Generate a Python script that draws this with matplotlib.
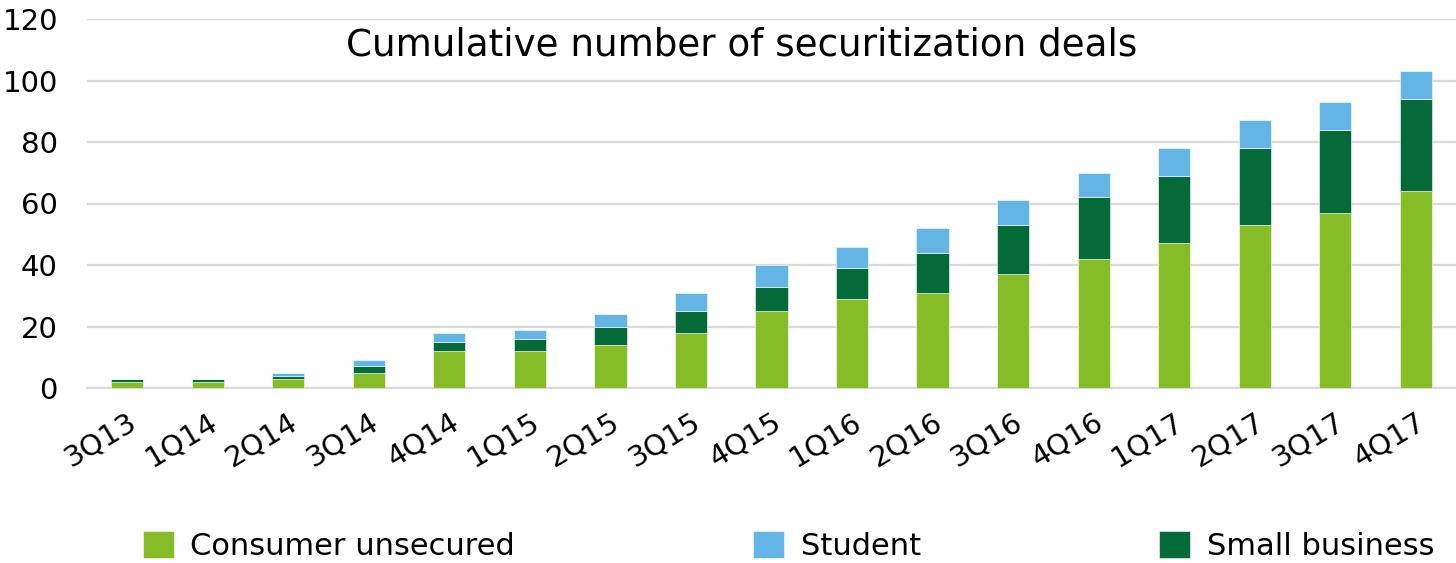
import matplotlib.pyplot as plt
import numpy as np

quarters = ["3Q13", "1Q14", "2Q14", "3Q14", "4Q14", "1Q15", "2Q15", "3Q15", "4Q15",
            "1Q16", "2Q16", "3Q16", "4Q16", "1Q17", "2Q17", "3Q17", "4Q17"]
consumer = [2, 2, 3, 5, 12, 12, 14, 18, 25, 29, 31, 37, 42, 47, 53, 57, 64]
small_business = [1, 1, 1, 2, 3, 4, 6, 7, 8, 10, 13, 16, 20, 22, 25, 27, 30]
student = [0, 0, 1, 2, 3, 3, 4, 6, 7, 7, 8, 8, 8, 9, 9, 9, 9]

GREEN = "#86BC25"
DARK = "#046A38"
BLUE = "#62B5E5"
GRID = "#d9d9d9"

fig = plt.figure(figsize=(14.56, 5.63), dpi=100)
ax = fig.add_axes([87 / 1456, 1 - 388 / 563, 1 - 87 / 1456, (388 - 19) / 563])

x = np.arange(len(quarters))
cons = np.array(consumer)
sb = np.array(small_business)
stu = np.array(student)
w = 0.4
b1 = ax.bar(x, cons, w, color=GREEN, edgecolor="white", linewidth=0.4, zorder=3)
b3 = ax.bar(x, sb, w, bottom=cons, color=DARK, edgecolor="white", linewidth=0.4, zorder=3)
b2 = ax.bar(x, stu, w, bottom=cons + sb, color=BLUE, edgecolor="white", linewidth=0.4, zorder=3)

ax.set_xlim(-0.5, len(quarters) - 0.5)
ax.set_ylim(0, 120)
ax.set_yticks(range(0, 121, 20))
ax.yaxis.grid(True, color=GRID, linewidth=1.6, zorder=0)
ax.set_axisbelow(True)
for name, s in ax.spines.items():
    s.set_visible(name == "bottom")
ax.spines["bottom"].set_color(GRID)
ax.spines["bottom"].set_linewidth(1.6)
ax.tick_params(axis="both", length=0, labelsize=21)
ax.tick_params(axis="y", pad=21)
ax.set_xticks(x)
ax.set_xticklabels(quarters, rotation=31, ha="right", rotation_mode="anchor")
ax.tick_params(axis="x", pad=14)

fig.text(742 / 1456, 1 - 45 / 563, "Cumulative number of securitization deals",
         ha="center", va="center", fontsize=26.8)

fig.legend([b1, b2, b3], ["Consumer unsecured", "Student", "Small business"],
           loc="center left", bbox_to_anchor=(143 / 1456, 1 - 546 / 563), ncol=3,
           frameon=False, fontsize=22, handlelength=1.0, handleheight=1.0,
           handletextpad=0.55, columnspacing=7.8, borderpad=0, borderaxespad=0)

fig.savefig("out.png", dpi=100)
